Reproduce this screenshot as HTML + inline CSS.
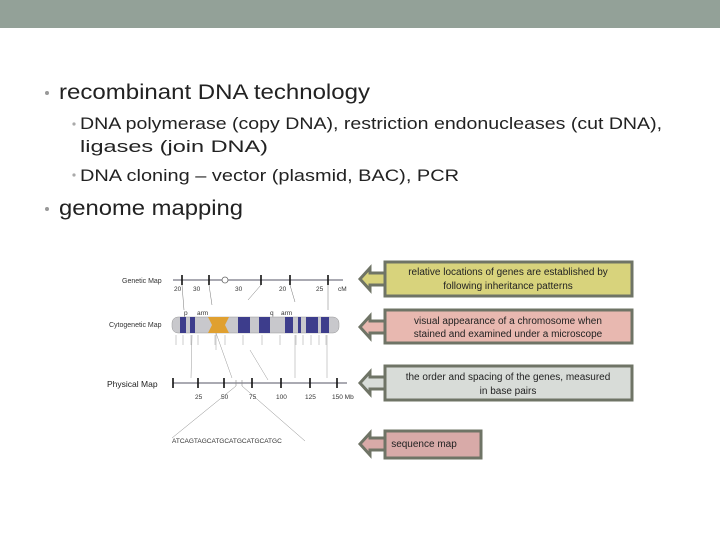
<!DOCTYPE html>
<html><head><style>
html,body{margin:0;padding:0;background:#fff;}
svg{display:block;font-family:"Liberation Sans",Arial,sans-serif;}
</style></head><body>
<svg width="720" height="540" viewBox="0 0 720 540" xmlns="http://www.w3.org/2000/svg">
<rect x="0" y="0" width="720" height="28" fill="#93a198"/>
<!-- bullets -->
<circle cx="47" cy="93" r="2" fill="#999"/>
<text x="59" y="99" font-size="21" fill="#222" textLength="311" lengthAdjust="spacingAndGlyphs">recombinant DNA technology</text>
<circle cx="74" cy="124" r="1.6" fill="#aaa"/>
<text x="80" y="129" font-size="17" fill="#222" textLength="582" lengthAdjust="spacingAndGlyphs">DNA polymerase (copy DNA), restriction endonucleases (cut DNA),</text>
<text x="80" y="152" font-size="17" fill="#222" textLength="188" lengthAdjust="spacingAndGlyphs">ligases (join DNA)</text>
<circle cx="74" cy="175" r="1.6" fill="#aaa"/>
<text x="80" y="181" font-size="17" fill="#222" textLength="379" lengthAdjust="spacingAndGlyphs">DNA cloning – vector (plasmid, BAC), PCR</text>
<circle cx="47" cy="209" r="2" fill="#999"/>
<text x="59" y="215" font-size="21" fill="#222" textLength="184" lengthAdjust="spacingAndGlyphs">genome mapping</text>

<!-- diagram -->
<g font-size="6.5" fill="#333">
<text x="122" y="283" font-size="7">Genetic Map</text>
<line x1="173" y1="280" x2="343" y2="280" stroke="#556" stroke-width="1"/>
<g stroke="#111" stroke-width="1.6">
<line x1="182" y1="275" x2="182" y2="285"/><line x1="209" y1="275" x2="209" y2="285"/>
<line x1="261" y1="275" x2="261" y2="285"/><line x1="290" y1="275" x2="290" y2="285"/>
<line x1="328" y1="275" x2="328" y2="285"/></g>
<circle cx="225" cy="280" r="3" fill="#fff" stroke="#666" stroke-width="0.8"/>
<text x="174" y="291">20</text><text x="193" y="291">30</text><text x="235" y="291">30</text>
<text x="279" y="291">20</text><text x="316" y="291">25</text><text x="338" y="291">cM</text>
<g stroke="#777" stroke-width="0.5" fill="none">
<line x1="209" y1="285" x2="212" y2="305"/><line x1="261" y1="285" x2="248" y2="300"/>
<line x1="290" y1="285" x2="295" y2="302"/><line x1="328" y1="285" x2="328" y2="310"/>
<line x1="182" y1="285" x2="184" y2="310"/></g>
<text x="109" y="327" font-size="7">Cytogenetic Map</text>
<text x="184" y="315">p</text><text x="197" y="315">arm</text>
<text x="270" y="315">q</text><text x="281" y="315">arm</text>
<rect x="172" y="317" width="167" height="16" rx="6" fill="#c8c8cc" stroke="#999" stroke-width="0.5"/>
<g fill="#3d3d8c">
<rect x="180" y="317" width="6" height="16"/><rect x="190" y="317" width="5" height="16"/>
<rect x="238" y="317" width="12" height="16"/><rect x="259" y="317" width="11" height="16"/>
<rect x="285" y="317" width="8" height="16"/><rect x="298" y="317" width="3" height="16"/>
<rect x="306" y="317" width="12" height="16"/><rect x="321" y="317" width="8" height="16"/>
</g>
<path d="M208 317 H229 L225 325 L229 333 H208 L212 325 Z" fill="#e0a030"/>
<g stroke="#999" stroke-width="0.5">
<line x1="176" y1="335" x2="176" y2="345"/><line x1="183" y1="335" x2="183" y2="345"/>
<line x1="191" y1="335" x2="191" y2="345"/><line x1="198" y1="335" x2="198" y2="345"/>
<line x1="215" y1="335" x2="215" y2="345"/><line x1="225" y1="335" x2="225" y2="345"/>
<line x1="243" y1="335" x2="243" y2="345"/><line x1="262" y1="335" x2="262" y2="345"/>
<line x1="280" y1="335" x2="280" y2="345"/><line x1="296" y1="335" x2="296" y2="345"/>
<line x1="303" y1="335" x2="303" y2="345"/><line x1="311" y1="335" x2="311" y2="345"/>
<line x1="319" y1="335" x2="319" y2="345"/><line x1="326" y1="335" x2="326" y2="345"/>
<line x1="192" y1="335" x2="191" y2="378"/><line x1="216" y1="333" x2="232" y2="378"/>
<line x1="250" y1="350" x2="268" y2="380"/><line x1="295" y1="335" x2="295" y2="378"/>
<line x1="327" y1="335" x2="327" y2="378"/><line x1="216" y1="333" x2="216" y2="350"/>
</g>
<text x="107" y="387" font-size="8.5" fill="#222">Physical Map</text>
<line x1="173" y1="383" x2="347" y2="383" stroke="#556" stroke-width="1"/>
<g stroke="#111" stroke-width="1.6">
<line x1="173" y1="378" x2="173" y2="388"/><line x1="198" y1="378" x2="198" y2="388"/>
<line x1="224" y1="378" x2="224" y2="388"/><line x1="252" y1="378" x2="252" y2="388"/>
<line x1="281" y1="378" x2="281" y2="388"/><line x1="310" y1="378" x2="310" y2="388"/>
<line x1="337" y1="378" x2="337" y2="388"/></g>
<g stroke="#888" stroke-width="0.6"><line x1="236" y1="380" x2="236" y2="386"/><line x1="242" y1="380" x2="242" y2="386"/></g>
<text x="195" y="399">25</text><text x="221" y="399">50</text><text x="249" y="399">75</text>
<text x="276" y="399">100</text><text x="305" y="399">125</text><text x="332" y="399">150 Mb</text>
<g stroke="#888" stroke-width="0.5"><line x1="236" y1="386" x2="172" y2="438"/><line x1="242" y1="386" x2="305" y2="441"/></g>
<text x="172" y="443" font-size="6.5">ATCAGTAGCATGCATGCATGCATGC</text>
</g>

<!-- callouts -->
<g stroke="#6f7466" stroke-width="3">
<path d="M385 273 H370 V268 L360 279 L370 290 V285 H385" fill="#d8d37c"/>
<rect x="385" y="262" width="247" height="34" fill="#d8d37c"/>
<path d="M385 321 H370 V316 L360 327 L370 338 V333 H385" fill="#e8b8b0"/>
<rect x="385" y="310" width="247" height="33" fill="#e8b8b0"/>
<path d="M385 377 H370 V372 L360 383 L370 394 V389 H385" fill="#d8dcd8"/>
<rect x="385" y="366" width="247" height="34" fill="#d8dcd8"/>
<path d="M385 438 H370 V433 L360 444 L370 455 V450 H385" fill="#d8aaa8"/>
<rect x="385" y="431" width="96" height="27" fill="#d8aaa8"/>
</g>
<g font-size="10" fill="#222" text-anchor="middle">
<text x="508" y="275">relative locations of genes are established by</text>
<text x="508" y="289">following inheritance patterns</text>
<text x="508" y="324">visual appearance of a chromosome when</text>
<text x="508" y="337">stained and examined under a microscope</text>
<text x="508" y="380">the order and spacing of the genes, measured</text>
<text x="508" y="394">in base pairs</text>
<text x="424" y="447">sequence map</text>
</g>
</svg>
</body></html>
